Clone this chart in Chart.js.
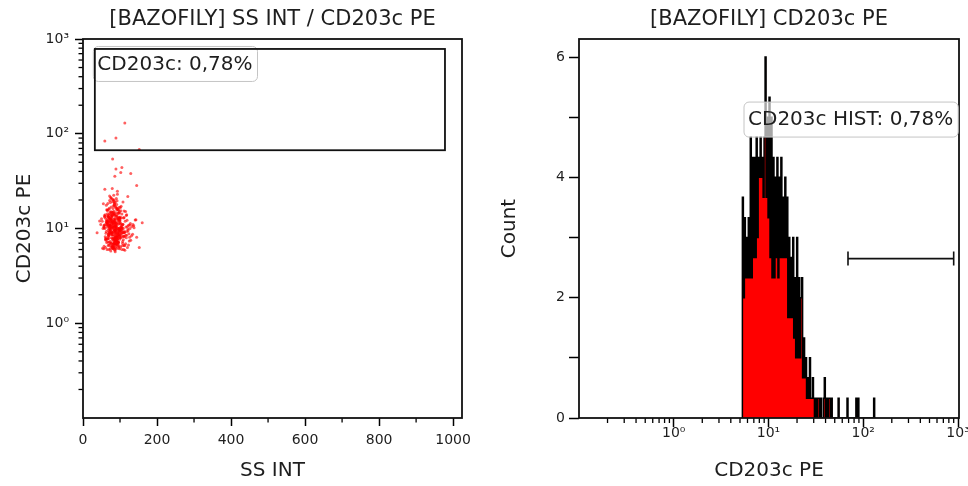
<!DOCTYPE html>
<html><head><meta charset="utf-8">
<script src="https://cdn.jsdelivr.net/npm/chart.js@4/dist/chart.umd.min.js"></script>
<style>
html,body{margin:0;padding:0;background:#fff;}
#wrap{position:relative;width:968px;height:486px;overflow:hidden;}
.c{position:absolute;top:0;width:484px;height:486px;}
#left{left:0;}
#right{left:484px;}
</style></head><body>
<div id="wrap"><div class="c" id="left"><canvas id="c1"></canvas></div><div class="c" id="right"><canvas id="c2"></canvas></div></div>
<script>
// ---------- data ----------
const ssInt = [
72,88,95,64,103,81,77,118,69,92,85,58,110,99,74,83,126,66,90,79,
101,62,87,94,71,113,80,55,97,86,68,122,76,91,84,105,60,73,96,82,
89,107,67,78,131,93,70,85,115,63,98,75,88,52,109,81,94,69,120,86,
77,100,91,57,84,112,73,96,65,87,104,79,138,92,61,83,99,74,108,90,
68,95,82,117,71,89,102,59,86,76,124,93,80,66,97,85,111,72,88,145,
78,64,106,91,83,54,99,74,119,87,70,94,81,128,62,90,103,77,85,96,
73,110,88,67,92,80,48,101,84,75,116,93,69,86,98,63,107,82,79,134,
91,58,87,100,76,94,114,71,83,97,65,89,105,78,121,86,72,95,60,81,
99,84,70,125,88,77,93,56,102,85,74,109,90,66,97,80,141,87,73,96,
62,89,104,79,92,68,115,84,76,100,87,53,95,82,112,71,90,98,75,86,
83,107,66,94,78,129,88,72,101,61,91,85,118,74,96,80,69,103,89,152,
77,93,57,86,111,70,98,82,64,90,106,79,87,123,73,95,84,67,100,76,
92,81,113,68,88,97,75,59,104,85,71,94,137,80,66,99,87,109,78,91,
63,86,96,74,120,83,50,102,89,77,93,69,108,82,97,72,88,126,65,84,
87,74,99,81,66,93,108,77,85,70,96,89,61,104,79,92,83,115,72,88,
95,68,82,101,76,90,57,86,111,73,97,84,69,123,80,94,64,87,102,78,
71,91,85,62,106,79,98,88,74,117,83,67,93,100,76,89,135,70,95,81,
84,103,72,90,78,60,97,86,112,75,92,80,68,105,87,73,99,83,127,66,
90,77,94,58,86,109,71,82,100,88,65,96,79,119,74,91,84,102,69,143,
80,97,67,89,113,76,93,85,63,101,82,72,98,87,107,75,91,56,86,94,
99,73,88,81,104,69,92,78,121,84,95,66,87,110,79,90,74,100,83,132,
113,59,89,152,80,89,105,102,129,86,145,59,45,160,38
];
const cd203c = [
9.2,12.5,7.1,15.8,10.3,6.4,11.7,8.5,13.9,19.6,7.8,10.9,6.0,14.6,9.7,22.4,8.1,12.0,6.9,10.6,
16.7,7.5,11.2,9.0,13.1,5.9,10.1,18.3,8.7,12.8,6.6,9.5,21.0,7.3,11.5,14.2,8.2,10.8,6.2,17.4,
9.9,7.0,13.6,11.0,8.4,24.8,6.7,10.4,15.1,9.3,12.3,5.8,8.9,11.9,7.6,20.1,10.0,13.3,6.3,9.6,
12.6,8.0,17.9,6.5,10.7,9.1,14.9,7.2,11.4,5.7,13.0,8.6,10.2,16.2,7.7,12.1,9.4,6.1,19.0,10.5,
8.3,11.8,6.8,13.7,9.8,7.4,15.4,10.9,6.0,12.4,8.8,23.0,7.9,11.1,9.0,14.4,6.6,10.3,17.0,8.1,
11.6,7.1,9.6,13.4,6.4,10.0,8.5,18.8,12.2,7.5,9.2,15.9,6.2,11.3,8.9,20.7,10.6,7.0,13.8,9.4,
6.9,12.9,8.2,10.8,16.5,7.7,11.0,9.1,6.3,14.1,10.4,8.4,12.7,5.9,9.8,17.6,7.3,11.5,26.5,8.7,
10.1,13.2,6.7,9.5,15.0,8.0,11.9,7.2,12.5,9.7,6.0,14.7,10.2,8.6,21.8,7.8,11.4,9.3,13.5,6.5,
12.0,8.3,16.0,7.4,10.7,9.0,13.1,6.1,11.2,18.1,8.8,10.0,7.6,14.3,9.9,6.8,12.3,8.1,10.5,15.6,
7.9,11.7,9.4,6.4,13.9,10.9,8.5,19.4,7.0,12.6,9.6,6.2,11.1,14.8,8.2,10.3,7.3,16.8,9.1,12.2,
9.7,6.6,11.5,8.7,13.3,7.5,10.1,22.0,8.0,12.8,6.9,9.5,14.0,10.6,7.1,11.8,8.4,17.2,9.9,6.3,
13.6,8.9,10.4,7.7,15.3,6.0,11.3,9.2,12.4,7.9,10.8,20.4,8.6,6.7,11.0,14.5,9.8,7.2,12.9,10.2,
8.1,16.3,9.3,11.6,7.4,13.0,6.5,10.0,8.8,18.6,12.1,7.8,10.7,9.0,15.7,6.1,11.4,8.3,13.8,9.6,
11.9,7.0,14.6,9.4,10.5,6.8,12.7,8.5,16.6,10.1,7.6,13.2,9.1,11.2,6.4,19.8,8.0,10.9,12.0,7.3,
10.4,7.3,12.9,8.6,15.5,6.7,11.1,9.3,17.8,7.9,10.0,13.6,6.3,9.0,11.9,8.1,14.2,6.9,10.7,8.8,
12.3,9.6,6.1,11.4,16.9,8.3,10.2,7.4,13.1,9.9,6.6,12.0,8.7,10.8,19.2,7.1,11.6,9.2,6.4,14.8,
8.5,11.2,13.9,7.7,10.1,6.2,15.1,9.4,12.6,8.0,10.9,18.4,7.2,9.7,12.2,6.8,11.0,8.9,16.1,10.3,
7.0,9.8,12.8,10.6,6.5,14.0,8.2,11.7,9.1,21.3,7.6,10.4,13.4,6.0,9.5,12.5,8.4,15.2,10.0,7.8,
11.3,8.0,6.9,13.7,10.5,9.0,16.4,7.5,12.1,6.3,10.9,8.6,14.6,9.3,11.8,7.3,20.0,10.2,8.7,12.4,
9.1,13.0,7.8,10.7,6.6,12.9,8.4,17.3,11.5,9.6,6.2,14.3,10.1,7.4,11.0,8.9,15.8,10.6,6.8,12.7,
7.7,10.8,9.2,14.1,8.1,11.9,6.5,13.5,9.9,7.0,12.6,10.3,18.9,8.3,11.3,6.1,9.7,13.2,7.9,10.5,
130,84,90,68,54,42.5,44,39,38,35.5,28.4,26,12.0,11.5,9.0
];
// scatter gate (SS INT range, CD203c range)
const gateSS = [32, 978];
const gateCD = [67, 785];

// histogram: counts per channel, channels log-spaced from binStart
const binStart = 5.3;
const binsPerDecade = 96;
const histCounts = [
3.67,2.0,3.33,2.33,3.0,2.33,3.33,2.33,4.67,2.33,
4.33,2.67,4.33,2.67,4.67,3.0,4.33,4.0,4.67,4.0,
4.33,3.67,4.67,6.0,3.67,5.0,3.33,5.33,2.67,5.0,
2.33,4.33,2.33,4.0,2.67,4.33,2.33,4.0,2.67,4.33,
2.67,3.67,2.67,4.0,2.67,3.67,1.67,3.0,1.67,2.67,
1.67,3.0,1.33,2.33,1.0,3.0,1.0,2.33,1.0,2.0,
2.33,0.67,1.33,0.67,1.0,0.33,0.67,0.33,1.0,0.33,
0.33,0.67,0.33,0,0.33,0,0.33,0.33,0,0.33,
0,0,0.33,0.67,0,0.33,0,0.33,0.33,0,
0.33,0,0,0,0,0,0,0.33,0,0,
0,0,0,0,0,0,0.33,0,0,0,
0,0,0,0,0,0.33,0,0.33,0,0,
0,0,0,0,0,0,0,0,0,0,
0,0,0,0.33,0
];
const histGateX = [69, 900];
const histGateY = 2.65;
const histLabelY = 5.26;

// ticks
const ssTicks = [0,200,400,600,800,1000];
const ssMinor = [100,300,500,700,900];
const decadeTicks = [1,10,100,1000];
const decadeLabels = ['10\u2070','10\u00B9','10\u00B2','10\u00B3'];
const logMinor = [0.2,0.3,0.4,0.5,0.6,0.7,0.8,0.9,2,3,4,5,6,7,8,9,20,30,40,50,60,70,80,90,200,300,400,500,600,700,800,900];
const countTicks = [0,1,2,3,4,5,6];
const countLabels = ['0','','2','','4','','6'];

// ---------- style ----------
const FONT = 'DejaVu Sans';
const TXT = '#1e1e1e';
const TICKSIZE = 14;
Chart.defaults.font.family = FONT;
Chart.defaults.color = TXT;

function fixAxis(size, horiz) {
  return s => {
    if (horiz) s.height = size; else s.width = size;
    s.paddingLeft = 0; s.paddingRight = 0; s.paddingTop = 0; s.paddingBottom = 0;
  };
}
function setTicks(vals) { return s => { s.ticks = vals.map(v => ({value: v})); }; }

function labelBox(ctx, text, x, y, align) {
  ctx.font = '20px "' + FONT + '"';
  const w = ctx.measureText(text).width + 9, h = 35;
  const bx = align === 'right' ? x - w : x;
  ctx.beginPath();
  ctx.roundRect(bx + 0.5, y + 0.5, w, h, 5);
  ctx.fillStyle = 'rgba(255,255,255,0.65)';
  ctx.fill();
  ctx.strokeStyle = '#c4c4c4'; ctx.lineWidth = 1;
  ctx.stroke();
  return {bx, w, h};
}
function labelText(ctx, text, box, y) {
  ctx.font = '20px "' + FONT + '"';
  ctx.fillStyle = TXT; ctx.textBaseline = 'middle'; ctx.textAlign = 'left';
  ctx.fillText(text, box.bx + 4.5, y + box.h / 2 + 1);
}

const decor = {
  id: 'decor',
  afterDatasetsDraw(chart, args, o) {
    const ctx = chart.ctx, a = chart.chartArea;
    const sx = chart.scales.x, sy = chart.scales.y;
    ctx.save();
    ctx.strokeStyle = '#000'; ctx.lineWidth = 1.3;
    (o.minorX || []).forEach(v => {
      const px = sx.getPixelForValue(v);
      ctx.beginPath(); ctx.moveTo(px, a.bottom); ctx.lineTo(px, a.bottom + o.minorLen); ctx.stroke();
    });
    (o.minorY || []).forEach(v => {
      const py = sy.getPixelForValue(v);
      if (py < a.top - 1 || py > a.bottom + 1) return;
      ctx.beginPath(); ctx.moveTo(a.left, py); ctx.lineTo(a.left - o.minorLen, py); ctx.stroke();
    });
    ctx.lineWidth = 1.8; ctx.strokeStyle = '#111';
    ctx.strokeRect(a.left, a.top, a.right - a.left, a.bottom - a.top);
    if (o.draw) o.draw(chart, ctx);
    ctx.restore();
  }
};

const common = {
  responsive: true, maintainAspectRatio: false, animation: false, devicePixelRatio: 1,
  events: []
};
function titleOpts(text) {
  return {display: true, text, fullSize: false, color: TXT,
          font: {family: FONT, size: 21, weight: 'normal', lineHeight: 1.2},
          padding: {top: 7, bottom: 6.8}};
}
function axTitle(text, pad) {
  return {display: true, text, color: TXT, font: {family: FONT, size: 20, lineHeight: 1.2}, padding: pad};
}
const gridTicks = len => ({display: true, drawOnChartArea: false, drawTicks: true, tickLength: len,
                           color: 'rgba(0,0,0,0)', tickColor: '#000', tickWidth: 1.5});

// ---------- left: scatter ----------
new Chart(document.getElementById('c1'), {
  type: 'scatter',
  data: {datasets: [{
    data: ssInt.map((x, i) => ({x, y: cd203c[i]})),
    pointRadius: 1.5, pointBackgroundColor: 'rgba(255,0,0,0.62)', pointBorderWidth: 0, pointHoverRadius: 0
  }]},
  options: Object.assign({}, common, {
    layout: {padding: {left: 0, right: 22, top: 0, bottom: 0}},
    plugins: {
      legend: {display: false}, tooltip: {enabled: false},
      title: titleOpts('[BAZOFILY] SS INT / CD203c PE'),
      decor: {
        minorX: ssMinor, minorY: logMinor, minorLen: 4.5,
        draw: (chart, ctx) => {
          const sx = chart.scales.x, sy = chart.scales.y;
          const x0 = sx.getPixelForValue(gateSS[0]), x1 = sx.getPixelForValue(gateSS[1]);
          const y0 = sy.getPixelForValue(gateCD[1]), y1 = sy.getPixelForValue(gateCD[0]);
          const txt = 'CD203c: 0,78%';
          const by = y0 - 3;
          const box = labelBox(ctx, txt, x0 - 2, by, 'left');
          ctx.lineWidth = 1.8; ctx.strokeStyle = '#111';
          ctx.strokeRect(x0, y0, x1 - x0, y1 - y0);
          labelText(ctx, txt, box, by);
        }
      }
    },
    scales: {
      x: {type: 'linear', min: 0, max: 1024, afterBuildTicks: setTicks(ssTicks), afterFit: fixAxis(68, true),
          grid: gridTicks(8), border: {display: false},
          ticks: {font: {size: TICKSIZE}, color: TXT, padding: 6, maxRotation: 0, autoSkip: false,
                  callback: v => String(ssTicks[ssTicks.indexOf(v)])},
          title: axTitle('SS INT', {top: 0, bottom: 3})},
      y: {type: 'logarithmic', min: 0.1, max: 1000, afterBuildTicks: setTicks(decadeTicks), afterFit: fixAxis(83, false),
          grid: gridTicks(8), border: {display: false},
          ticks: {font: {size: TICKSIZE}, color: TXT, padding: 6, autoSkip: false,
                  callback: v => decadeLabels[decadeTicks.indexOf(v)]},
          title: axTitle('CD203c PE', {top: 13, bottom: 0})}
    }
  }),
  plugins: [decor]
});

// ---------- right: histogram ----------
const histPoints = [{x: binStart, y: 0}];
histCounts.forEach((c, i) => histPoints.push({x: binStart * Math.pow(10, i / binsPerDecade), y: c}));
histPoints.push({x: binStart * Math.pow(10, histCounts.length / binsPerDecade), y: 0});

new Chart(document.getElementById('c2'), {
  type: 'line',
  data: {datasets: [{
    data: histPoints, stepped: 'before', fill: 'origin',
    backgroundColor: '#ff0000', borderColor: '#000', borderWidth: 1.5,
    pointRadius: 0, pointHoverRadius: 0, tension: 0
  }]},
  options: Object.assign({}, common, {
    layout: {padding: {left: 0, right: 9, top: 0, bottom: 0}},
    plugins: {
      legend: {display: false}, tooltip: {enabled: false},
      title: titleOpts('[BAZOFILY] CD203c PE'),
      decor: {
        minorX: logMinor, minorLen: 5,
        draw: (chart, ctx) => {
          const sx = chart.scales.x, sy = chart.scales.y;
          const x0 = sx.getPixelForValue(histGateX[0]), x1 = sx.getPixelForValue(histGateX[1]);
          const yg = sy.getPixelForValue(histGateY);
          ctx.strokeStyle = '#111'; ctx.lineWidth = 1.6;
          ctx.beginPath();
          ctx.moveTo(x0, yg); ctx.lineTo(x1, yg);
          ctx.moveTo(x0, yg - 7); ctx.lineTo(x0, yg + 7);
          ctx.moveTo(x1, yg - 7); ctx.lineTo(x1, yg + 7);
          ctx.stroke();
          const txt = 'CD203c HIST: 0,78%';
          const by = sy.getPixelForValue(histLabelY);
          const box = labelBox(ctx, txt, x1 + 4, by, 'right');
          labelText(ctx, txt, box, by);
        }
      }
    },
    scales: {
      x: {type: 'logarithmic', min: 0.1, max: 1024, afterBuildTicks: setTicks(decadeTicks), afterFit: fixAxis(68, true),
          grid: gridTicks(9), border: {display: false},
          ticks: {font: {size: TICKSIZE}, color: TXT, padding: -2, maxRotation: 0, autoSkip: false,
                  callback: v => decadeLabels[decadeTicks.indexOf(v)]},
          title: axTitle('CD203c PE', {top: 0, bottom: 3})},
      y: {type: 'linear', min: 0, max: 6.3, afterBuildTicks: setTicks(countTicks), afterFit: fixAxis(95, false),
          grid: gridTicks(10), border: {display: false},
          ticks: {font: {size: TICKSIZE}, color: TXT, padding: 4, autoSkip: false,
                  callback: v => countLabels[countTicks.indexOf(v)]},
          title: axTitle('Count', {top: 14, bottom: 0})}
    }
  }),
  plugins: [decor]
});
</script>
</body></html>
